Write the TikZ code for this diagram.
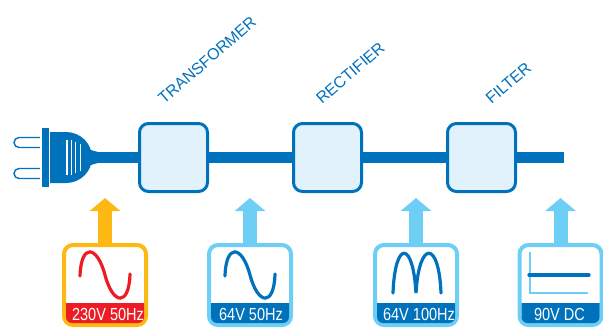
\documentclass[tikz,border=0pt]{standalone}
\usepackage{fontspec}
\setmainfont{Liberation Sans}
\newfontfamily\narrowfont[FakeStretch=0.83]{Liberation Sans}
\usetikzlibrary{arrows.meta, positioning}
\definecolor{PowerBlue}{RGB}{0, 114, 188}
\definecolor{PaleBlue}{RGB}{225, 242, 252}
\definecolor{SkyBlue}{RGB}{109, 207, 246}
\definecolor{FeedOrange}{RGB}{253, 184, 19}
\definecolor{MainsRed}{RGB}{237, 28, 36}
\tikzset{
    stagebox/.style={draw=PowerBlue, fill=PaleBlue, line width=3pt, rounded corners=9pt, minimum size=68pt, inner sep=0pt},
    stagelabel/.style={font=\fontsize{16}{16}\selectfont, color=PowerBlue, rotate=41, anchor=base west, inner sep=0pt},
    signalbox/.style={fill=white, line width=4pt, rounded corners=9pt, minimum width=82pt, minimum height=80pt, inner sep=0pt},
    bandlabel/.style={font=\narrowfont\fontsize{17.5}{17.5}\selectfont, color=white, inner sep=0pt},
    wire/.style={draw=PowerBlue, line width=11pt},
    feed/.style={line width=14pt, -{Triangle[width=30pt, length=13pt]}},
    wave/.style={line width=3.2pt, line cap=round},
    prong/.style={draw=PowerBlue, line width=1.4pt}
}
\begin{document}
\begin{tikzpicture}[x=1pt, y=-1pt]
    \useasboundingbox (0,0) rectangle (603,327);
    % stages
    \node[stagebox] (trafo) at (173.5,157.5) {};
    \node[stagebox] (rect) at (327.5,157.5) {};
    \node[stagebox] (filt) at (481.5,157.5) {};
    \node[stagelabel] (trafolabel) at (164,105) {TRANSFORMER};
    \node[stagelabel] (rectlabel) at (322,105) {RECTIFIER};
    \node[stagelabel] (filtlabel) at (491.5,105) {FILTER};
    % plug
    \coordinate (plugend) at (88,157.5);
    \coordinate (wireend) at (564,157.5);
    \draw[prong] (40,137.5) -- (19,137.5) arc (270:90:5) -- (40,147.5);
    \draw[prong] (40,168.5) -- (19,168.5) arc (270:90:5) -- (40,178.5);
    \fill[PowerBlue] (41.5,128) rectangle (48.5,187);
    \fill[PowerBlue] (50,132) -- (66,132) arc (-90:90:26 and 25.5) -- (50,183) -- cycle;
    \fill[PowerBlue] (86,146) .. controls (90,150) .. (98,152) -- (98,163) .. controls (90,165) .. (86,169) -- cycle;
    \foreach \sx/\sa/\sb in {67/140/175, 71.5/140/175, 75.5/142/173} {
        \draw[white, line width=1.7pt] (\sx,\sa) -- (\sx,\sb);
    }
    \draw[white, line width=0.8pt] (80.5,144) -- (80.5,171);
    \draw[wire] (plugend) -- (trafo) -- (rect) -- (filt) -- (wireend);
    % signals below the line
    \foreach \name/\xpos/\labx/\framecol/\bandcol/\txt in {
        mains/105/108/FeedOrange/MainsRed/230V 50Hz,
        low/250/251/SkyBlue/PowerBlue/64V 50Hz,
        pulse/416/419/SkyBlue/PowerBlue/64V 100Hz,
        dc/560.5/559.5/SkyBlue/PowerBlue/90V DC} {
        \node[signalbox, draw=\framecol] (\name) at (\xpos,285) {};
        \coordinate (\name tip) at (\xpos,198);
        \draw[feed, draw=\framecol, fill=\framecol] (\name.north) -- (\name tip);
        \fill[\bandcol] (\xpos-39,303) [rounded corners=6pt] -- (\xpos-39,323) -- (\xpos+39,323) [sharp corners] -- (\xpos+39,303) -- cycle;
        \node[bandlabel] (\name label) at (\labx,314) {\txt};
    }
    % waveforms
    \draw[wave, MainsRed] (80,276) .. controls (81,243) and (97,245) .. (105,275) .. controls (113,305) and (129,307) .. (130,274);
    \draw[wave, PowerBlue] (225,276) .. controls (226,243) and (242,245) .. (250,275) .. controls (258,305) and (274,307) .. (275,274);
    \draw[wave, PowerBlue] (393,293) .. controls (395,240) and (413,240) .. (416,293) .. controls (419,240) and (439,240) .. (441,293);
    \draw[SkyBlue, line width=1.5pt] (530,252) -- (530,293) -- (588,293);
    \draw[wave, PowerBlue] (529,275) -- (589,275);
\end{tikzpicture}
\end{document}
